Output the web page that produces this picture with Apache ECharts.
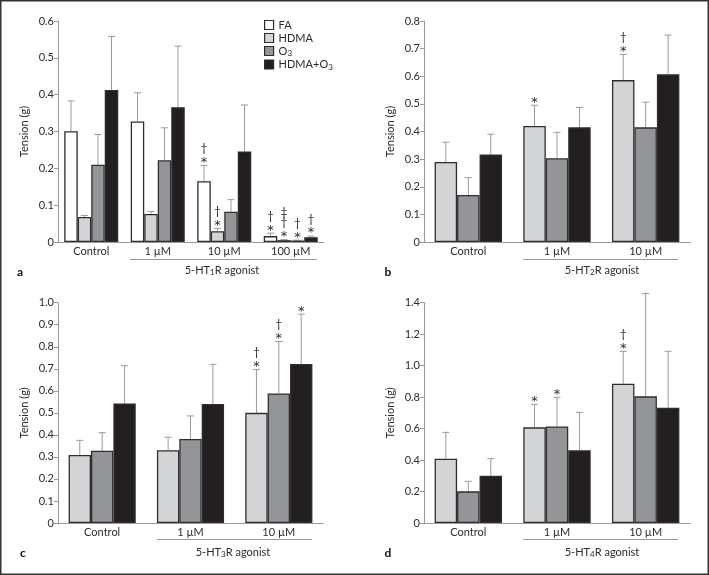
<!DOCTYPE html>
<html>
<head>
<meta charset="utf-8">
<script src="https://cdn.jsdelivr.net/npm/echarts@6/dist/echarts.min.js"></script>
<style>html,body{margin:0;padding:0;background:#fff}#c{width:709px;height:575px}</style>
</head>
<body>
<div id="c"></div>
<script>
// ---------- data ----------
// Panel a (5-HT1R agonist)
const catA = ['Control', '1 µM', '10 µM', '100 µM'];
const aFA = [0.301, 0.327, 0.165, 0.016];
const aFATop = [0.383, 0.405, 0.208, 0.024];
const aHDMA = [0.068, 0.076, 0.029, 0.005];
const aHDMATop = [0.072, 0.083, 0.037, 0.007];
const aO3 = [0.210, 0.222, 0.082, 0.004];
const aO3Top = [0.292, 0.310, 0.115, 0.005];
const aMix = [0.413, 0.366, 0.246, 0.013];
const aMixTop = [0.558, 0.532, 0.372, 0.016];
const aFAMarks = ['', '', '†*', '†*'];
const aHDMAMarks = ['', '', '†*', '‡†*'];
const aO3Marks = ['', '', '', '†*'];
const aMixMarks = ['', '', '', '†*'];

// Panel b (5-HT2R agonist)
const catB = ['Control', '1 µM', '10 µM'];
const bHDMA = [0.290, 0.420, 0.586];
const bHDMATop = [0.361, 0.495, 0.679];
const bO3 = [0.170, 0.303, 0.415];
const bO3Top = [0.233, 0.397, 0.506];
const bMix = [0.317, 0.415, 0.607];
const bMixTop = [0.390, 0.487, 0.749];
const bHDMAMarks = ['', '*', '†*'];
const bO3Marks = ['', '', ''];
const bMixMarks = ['', '', ''];

// Panel c (5-HT3R agonist)
const catC = ['Control', '1 µM', '10 µM'];
const cHDMA = [0.309, 0.330, 0.500];
const cHDMATop = [0.375, 0.389, 0.697];
const cO3 = [0.328, 0.381, 0.588];
const cO3Top = [0.410, 0.486, 0.824];
const cMix = [0.543, 0.540, 0.722];
const cMixTop = [0.714, 0.720, 0.948];
const cHDMAMarks = ['', '', '†*'];
const cO3Marks = ['', '', '†*'];
const cMixMarks = ['', '', '*'];

// Panel d (5-HT4R agonist)
const catD = ['Control', '1 µM', '10 µM'];
const dHDMA = [0.409, 0.608, 0.885];
const dHDMATop = [0.576, 0.754, 1.091];
const dO3 = [0.201, 0.614, 0.805];
const dO3Top = [0.265, 0.799, 1.459];
const dMix = [0.301, 0.462, 0.733];
const dMixTop = [0.409, 0.703, 1.091];
const dHDMAMarks = ['', '*', '†*'];
const dO3Marks = ['', '*', ''];
const dMixMarks = ['', '', ''];

// ---------- styles ----------
const FONT = 'Lato, "Open Sans", sans-serif';
const TXT = '#2b2b2b';
const AXIS = '#9a9a9a';
const COL = { FA: '#ffffff', HDMA: '#d3d4d6', O3: '#949599', MIX: '#231f20' };
const BORDER = '#2e2e2e';

const chart = echarts.init(document.getElementById('c'), null, { renderer: 'canvas' });

const grids = [
  { left: 58, top: 21, width: 266, height: 221 },
  { left: 424, top: 21, width: 266, height: 221 },
  { left: 58, top: 302.7, width: 265, height: 220.3 },
  { left: 424, top: 302.7, width: 266, height: 220.3 }
];
const gaps = [0.188, 0.24, 0.24, 0.24];

function xAx(gi, cats) {
  return {
    type: 'category', gridIndex: gi, data: cats,
    axisLine: { lineStyle: { color: AXIS, width: 1 } },
    axisTick: { show: false },
    axisLabel: { color: TXT, fontFamily: FONT, fontSize: 11, margin: 4 },
    splitLine: { show: false }
  };
}
function yAx(gi, max, interval) {
  return {
    type: 'value', gridIndex: gi, min: 0, max: max, interval: interval,
    name: 'Tension (g)', nameLocation: 'middle', nameGap: 28,
    nameTextStyle: { color: TXT, fontFamily: FONT, fontSize: 11 },
    axisLine: { show: true, lineStyle: { color: AXIS, width: 1 } },
    axisTick: { show: true, inside: false, length: 4, lineStyle: { color: AXIS } },
    axisLabel: { color: TXT, fontFamily: FONT, fontSize: 11, margin: 4,
      formatter: v => (v === 0 ? '0' : v.toFixed(1)) },
    splitLine: { show: false }
  };
}

function barS(name, gi, data, color, gap) {
  return {
    type: 'bar', name: name, xAxisIndex: gi, yAxisIndex: gi, data: data,
    barGap: '0%', barCategoryGap: (gap * 100) + '%',
    itemStyle: { color: color, borderColor: BORDER, borderWidth: 1.3 },
    emphasis: { disabled: true }, z: 3
  };
}

function errS(gi, k, n, gap, vals, tops, marks) {
  return {
    type: 'custom', name: 'err' + gi + '_' + k, xAxisIndex: gi, yAxisIndex: gi,
    silent: true, z: 2,
    data: tops.map((v, i) => [i, v]),
    renderItem: function (params, api) {
      const i = api.value(0);
      const idx = params.dataIndex;
      const pTop = api.coord([i, api.value(1)]);
      const pBase = api.coord([i, vals[idx]]);
      const bw = api.size([1, 0])[0];
      const gw = bw * (1 - gap);
      const w = gw / n;
      const x = pTop[0] - gw / 2 + w * (k + 0.5);
      const children = [
        { type: 'line', shape: { x1: x, y1: pBase[1], x2: x, y2: pTop[1] },
          style: { stroke: AXIS, lineWidth: 1 } },
        { type: 'line', shape: { x1: x - 3.5, y1: pTop[1], x2: x + 3.5, y2: pTop[1] },
          style: { stroke: AXIS, lineWidth: 1 } }
      ];
      const m = marks[idx] || '';
      const chars = m.split('').reverse();
      chars.forEach((ch, j) => {
        const isStar = ch === '*';
        children.push({
          type: 'text', z2: 10,
          style: {
            text: ch, x: x, y: pTop[1] - (isStar ? 3 : 7) - j * 10,
            align: 'center', verticalAlign: 'middle',
            fontFamily: isStar ? '"DejaVu Sans", sans-serif' : FONT,
            fontSize: isStar ? 13 : 12, fill: TXT
          }
        });
      });
      return { type: 'group', children: children };
    }
  };
}

const series = [
  barS('FA', 0, aFA, COL.FA, gaps[0]),
  barS('HDMA', 0, aHDMA, COL.HDMA, gaps[0]),
  barS('O3', 0, aO3, COL.O3, gaps[0]),
  barS('HDMA+O3', 0, aMix, COL.MIX, gaps[0]),
  errS(0, 0, 4, gaps[0], aFA, aFATop, aFAMarks),
  errS(0, 1, 4, gaps[0], aHDMA, aHDMATop, aHDMAMarks),
  errS(0, 2, 4, gaps[0], aO3, aO3Top, aO3Marks),
  errS(0, 3, 4, gaps[0], aMix, aMixTop, aMixMarks),

  barS('HDMA', 1, bHDMA, COL.HDMA, gaps[1]),
  barS('O3', 1, bO3, COL.O3, gaps[1]),
  barS('HDMA+O3', 1, bMix, COL.MIX, gaps[1]),
  errS(1, 0, 3, gaps[1], bHDMA, bHDMATop, bHDMAMarks),
  errS(1, 1, 3, gaps[1], bO3, bO3Top, bO3Marks),
  errS(1, 2, 3, gaps[1], bMix, bMixTop, bMixMarks),

  barS('HDMA', 2, cHDMA, COL.HDMA, gaps[2]),
  barS('O3', 2, cO3, COL.O3, gaps[2]),
  barS('HDMA+O3', 2, cMix, COL.MIX, gaps[2]),
  errS(2, 0, 3, gaps[2], cHDMA, cHDMATop, cHDMAMarks),
  errS(2, 1, 3, gaps[2], cO3, cO3Top, cO3Marks),
  errS(2, 2, 3, gaps[2], cMix, cMixTop, cMixMarks),

  barS('HDMA', 3, dHDMA, COL.HDMA, gaps[3]),
  barS('O3', 3, dO3, COL.O3, gaps[3]),
  barS('HDMA+O3', 3, dMix, COL.MIX, gaps[3]),
  errS(3, 0, 3, gaps[3], dHDMA, dHDMATop, dHDMAMarks),
  errS(3, 1, 3, gaps[3], dO3, dO3Top, dO3Marks),
  errS(3, 2, 3, gaps[3], dMix, dMixTop, dMixMarks)
];

const subRich = {
  s: { fontSize: 8, fontFamily: FONT, color: TXT, padding: [5, 0, 0, 0] }
};

function agonist(label, cx, cy) {
  return {
    type: 'text', x: cx, y: cy,
    style: {
      text: label, align: 'center', verticalAlign: 'middle',
      fontFamily: FONT, fontSize: 11, fill: TXT,
      rich: subRich
    }
  };
}
function hline(x1, x2, y) {
  return { type: 'line', shape: { x1: x1, y1: y, x2: x2, y2: y },
    style: { stroke: AXIS, lineWidth: 1 } };
}
function letter(t, x, y) {
  return { type: 'text', x: x, y: y,
    style: { text: t, align: 'center', verticalAlign: 'middle',
      fontFamily: FONT, fontSize: 12, fontWeight: 'bold', fill: '#111' } };
}

const option = {
  animation: false,
  backgroundColor: '#ffffff',
  grid: grids,
  xAxis: [xAx(0, catA), xAx(1, catB), xAx(2, catC), xAx(3, catD)],
  yAxis: [yAx(0, 0.6, 0.1), yAx(1, 0.8, 0.1), yAx(2, 1.0, 0.1), yAx(3, 1.4, 0.2)],
  legend: {
    data: ['FA', 'HDMA', 'O3', 'HDMA+O3'],
    orient: 'vertical', left: 259, top: 14,
    itemWidth: 9, itemHeight: 9, itemGap: 1, icon: 'rect',
    selectedMode: false,
    itemStyle: { borderColor: BORDER, borderWidth: 1.2 },
    formatter: name => name.replace('O3', 'O{s|3}'),
    textStyle: { color: TXT, fontFamily: FONT, fontSize: 11, lineHeight: 12,
      rich: { s: { fontSize: 8, fontFamily: FONT, color: TXT, padding: [5, 0, 0, 0] } } }
  },
  series: series,
  graphic: [
    { type: 'rect', shape: { x: 0.75, y: 0.75, width: 707.5, height: 573.5 },
      style: { fill: 'none', stroke: '#333', lineWidth: 1.5 }, silent: true },
    hline(130, 317, 259.5), agonist('5-HT{s|1}R agonist', 222, 270),
    hline(523, 678, 259.5), agonist('5-HT{s|2}R agonist', 602, 270),
    hline(157, 312, 539.5), agonist('5-HT{s|3}R agonist', 233, 552),
    hline(523, 678, 539.5), agonist('5-HT{s|4}R agonist', 602, 552),
    letter('a', 20, 272), letter('b', 388, 272),
    letter('c', 23, 553), letter('d', 388, 553)
  ]
};
chart.setOption(option);
</script>
</body>
</html>
